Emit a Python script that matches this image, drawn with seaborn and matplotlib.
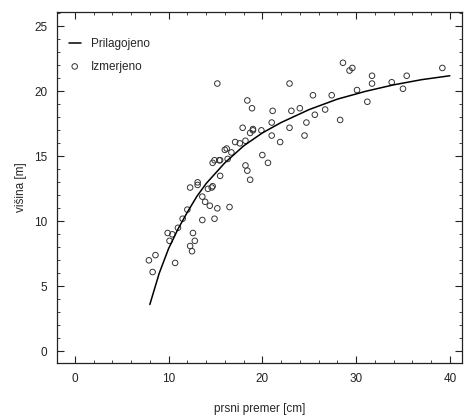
import numpy as np
import pandas as pd
import matplotlib
matplotlib.use("Agg")
import matplotlib.pyplot as plt
import seaborn as sns

# fitted curve
fit_d = [8, 9, 10, 11, 12, 13, 14, 16, 18, 20, 22, 25, 28, 31, 34, 37, 40]
fit_h = [3.6, 6.0, 7.9, 9.4, 10.7, 11.9, 12.9, 14.5, 15.8, 16.8, 17.6, 18.6, 19.4, 20.0, 20.5, 20.9, 21.2]

meas_d = [7.9, 8.3, 8.6, 9.9, 10.1, 11.0, 10.7, 12.6, 12.8, 12.3, 12.5, 13.6, 14.9, 12.0,
          12.3, 13.1, 14.2, 14.7, 13.6, 14.4, 15.2, 16.5, 15.2, 14.7, 15.4, 16.3, 16.7,
          16.0, 17.6, 18.2, 17.9, 18.7, 18.9, 18.4, 18.7, 18.2, 22.9, 21.1, 21.0, 19.0,
          19.9, 21.0, 22.9, 23.1, 24.0, 25.4, 26.7, 25.6, 24.7, 24.5, 21.9, 20.0, 20.6,
          28.3, 27.4, 28.6, 29.3, 30.1, 29.6, 31.2, 31.7, 31.7, 33.8, 35.0, 35.4, 39.2,
          17.1, 16.2, 14.9, 15.5, 13.1, 14.6, 15.5, 18.4, 19.0, 11.5, 13.9, 10.4]
meas_h = [7.0, 6.1, 7.4, 9.1, 8.5, 9.5, 6.8, 9.1, 8.5, 8.1, 7.7, 10.1, 10.2, 10.9,
          12.6, 12.8, 12.5, 12.7, 11.9, 11.2, 11.0, 11.1, 20.6, 14.5, 14.7, 14.8, 15.3,
          15.5, 16.0, 16.2, 17.2, 16.8, 18.7, 19.3, 13.2, 14.3, 20.6, 18.5, 17.6, 17.0,
          17.0, 16.6, 17.2, 18.5, 18.7, 19.7, 18.6, 18.2, 17.6, 16.6, 16.1, 15.1, 14.5,
          17.8, 19.7, 22.2, 21.6, 20.1, 21.8, 19.2, 21.2, 20.6, 20.7, 20.2, 21.2, 21.8,
          16.1, 15.6, 14.7, 14.7, 13.0, 12.6, 13.5, 13.9, 17.1, 10.2, 11.5, 9.0]

x_ticks = [0, 10, 20, 30, 40]
y_ticks = [0, 5, 10, 15, 20, 25]

sns.set_theme(style="ticks")
plt.rcParams['font.family'] = ['Liberation Sans', 'DejaVu Sans']

fit_df = pd.DataFrame({"d": fit_d, "h": fit_h})
meas_df = pd.DataFrame({"d": meas_d, "h": meas_h})

fig = plt.figure(figsize=(4.65, 4.16), dpi=100)
ax = fig.add_axes([0.1226, 0.1274, 0.871, 0.8436])

sns.lineplot(data=fit_df, x="d", y="h", ax=ax, color="black", linewidth=1.1,
             label="Prilagojeno")
sns.scatterplot(data=meas_df, x="d", y="h", ax=ax, marker="o", s=16,
                facecolors="none", edgecolor="#333333", linewidth=0.7,
                label="Izmerjeno")

ax.set_xlim(-1.9, 41.3)
ax.set_ylim(-0.9, 26.1)
ax.set_xticks(x_ticks)
ax.set_yticks(y_ticks)
ax.set_xticks(np.arange(-0, 42, 2), minor=True)
ax.set_yticks(np.arange(0, 27, 1), minor=True)
ax.tick_params(which="both", direction="in", top=True, right=True, labelsize=8.5,
               colors="#222222")
ax.tick_params(which="major", length=5, width=0.8, pad=7)
ax.tick_params(which="minor", length=2.5, width=0.6)
for sp in ax.spines.values():
    sp.set_linewidth(0.9)
    sp.set_color("#222222")

ax.set_xlabel("prsni premer [cm]", fontsize=8.5, labelpad=13)
ax.set_ylabel("višina [m]", fontsize=8.5, labelpad=5)

ax.legend(loc="upper left", frameon=False, fontsize=8.5, handlelength=1.0,
          bbox_to_anchor=(0.0, 0.96), borderaxespad=0.6, handletextpad=0.9,
          labelspacing=0.9)

fig.savefig("out.png", dpi=100)
